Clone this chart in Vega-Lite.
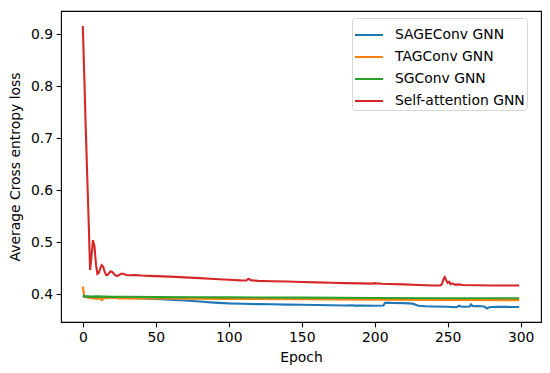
{
  "$schema": "https://vega.github.io/schema/vega-lite/v6.json",
  "width": 480,
  "height": 311,
  "autosize": {"type": "none"},
  "padding": {"left": 61, "top": 11, "right": 9, "bottom": 51},
  "background": "white",
  "config": {
    "view": {"stroke": "black", "strokeWidth": 1.1},
    "font": "DejaVu Sans",
    "axis": {
      "grid": false,
      "domain": false,
      "tickColor": "black",
      "tickSize": 4.9,
      "tickWidth": 1.1,
      "labelColor": "black",
      "labelFontSize": 13.9,
      "labelFont": "DejaVu Sans",
      "labelPadding": 3.5,
      "titleFont": "DejaVu Sans",
      "titleFontSize": 13.9,
      "titleFontWeight": "normal",
      "titleColor": "black"
    }
  },
  "data": {
    "values": [
      {"s": "Self-attention GNN", "e": 0, "v": 0.916},
      {"s": "Self-attention GNN", "e": 1, "v": 0.82},
      {"s": "Self-attention GNN", "e": 2, "v": 0.72},
      {"s": "Self-attention GNN", "e": 3, "v": 0.63},
      {"s": "Self-attention GNN", "e": 4, "v": 0.54},
      {"s": "Self-attention GNN", "e": 5, "v": 0.447},
      {"s": "Self-attention GNN", "e": 6, "v": 0.475},
      {"s": "Self-attention GNN", "e": 7, "v": 0.504},
      {"s": "Self-attention GNN", "e": 8, "v": 0.492},
      {"s": "Self-attention GNN", "e": 9, "v": 0.458},
      {"s": "Self-attention GNN", "e": 10, "v": 0.439},
      {"s": "Self-attention GNN", "e": 11, "v": 0.441},
      {"s": "Self-attention GNN", "e": 12, "v": 0.45},
      {"s": "Self-attention GNN", "e": 13, "v": 0.456},
      {"s": "Self-attention GNN", "e": 14, "v": 0.453},
      {"s": "Self-attention GNN", "e": 15, "v": 0.443},
      {"s": "Self-attention GNN", "e": 16, "v": 0.437},
      {"s": "Self-attention GNN", "e": 17, "v": 0.437},
      {"s": "Self-attention GNN", "e": 18, "v": 0.441},
      {"s": "Self-attention GNN", "e": 19, "v": 0.444},
      {"s": "Self-attention GNN", "e": 20, "v": 0.4435},
      {"s": "Self-attention GNN", "e": 21, "v": 0.4405},
      {"s": "Self-attention GNN", "e": 22, "v": 0.437},
      {"s": "Self-attention GNN", "e": 23, "v": 0.4355},
      {"s": "Self-attention GNN", "e": 24, "v": 0.4358},
      {"s": "Self-attention GNN", "e": 25, "v": 0.437},
      {"s": "Self-attention GNN", "e": 26, "v": 0.439},
      {"s": "Self-attention GNN", "e": 27, "v": 0.4398},
      {"s": "Self-attention GNN", "e": 28, "v": 0.439},
      {"s": "Self-attention GNN", "e": 29, "v": 0.438},
      {"s": "Self-attention GNN", "e": 30, "v": 0.437},
      {"s": "Self-attention GNN", "e": 33, "v": 0.4365},
      {"s": "Self-attention GNN", "e": 36, "v": 0.4368},
      {"s": "Self-attention GNN", "e": 40, "v": 0.436},
      {"s": "Self-attention GNN", "e": 45, "v": 0.4355},
      {"s": "Self-attention GNN", "e": 50, "v": 0.435},
      {"s": "Self-attention GNN", "e": 60, "v": 0.434},
      {"s": "Self-attention GNN", "e": 70, "v": 0.4325},
      {"s": "Self-attention GNN", "e": 80, "v": 0.431},
      {"s": "Self-attention GNN", "e": 90, "v": 0.4295},
      {"s": "Self-attention GNN", "e": 100, "v": 0.428},
      {"s": "Self-attention GNN", "e": 108, "v": 0.4268},
      {"s": "Self-attention GNN", "e": 112, "v": 0.4265},
      {"s": "Self-attention GNN", "e": 113, "v": 0.429},
      {"s": "Self-attention GNN", "e": 114, "v": 0.4295},
      {"s": "Self-attention GNN", "e": 115, "v": 0.427},
      {"s": "Self-attention GNN", "e": 116, "v": 0.4268},
      {"s": "Self-attention GNN", "e": 120, "v": 0.4258},
      {"s": "Self-attention GNN", "e": 130, "v": 0.4252},
      {"s": "Self-attention GNN", "e": 140, "v": 0.4245},
      {"s": "Self-attention GNN", "e": 150, "v": 0.4237},
      {"s": "Self-attention GNN", "e": 160, "v": 0.423},
      {"s": "Self-attention GNN", "e": 170, "v": 0.4222},
      {"s": "Self-attention GNN", "e": 180, "v": 0.4215},
      {"s": "Self-attention GNN", "e": 190, "v": 0.421},
      {"s": "Self-attention GNN", "e": 198, "v": 0.4205},
      {"s": "Self-attention GNN", "e": 200, "v": 0.4215},
      {"s": "Self-attention GNN", "e": 201, "v": 0.421},
      {"s": "Self-attention GNN", "e": 205, "v": 0.4202},
      {"s": "Self-attention GNN", "e": 210, "v": 0.4198},
      {"s": "Self-attention GNN", "e": 220, "v": 0.419},
      {"s": "Self-attention GNN", "e": 230, "v": 0.4178},
      {"s": "Self-attention GNN", "e": 240, "v": 0.417},
      {"s": "Self-attention GNN", "e": 245, "v": 0.4168},
      {"s": "Self-attention GNN", "e": 246, "v": 0.419},
      {"s": "Self-attention GNN", "e": 247, "v": 0.428},
      {"s": "Self-attention GNN", "e": 248, "v": 0.433},
      {"s": "Self-attention GNN", "e": 249, "v": 0.427},
      {"s": "Self-attention GNN", "e": 250, "v": 0.422},
      {"s": "Self-attention GNN", "e": 251, "v": 0.424},
      {"s": "Self-attention GNN", "e": 252, "v": 0.4195},
      {"s": "Self-attention GNN", "e": 253, "v": 0.421},
      {"s": "Self-attention GNN", "e": 255, "v": 0.4185},
      {"s": "Self-attention GNN", "e": 258, "v": 0.419},
      {"s": "Self-attention GNN", "e": 260, "v": 0.418},
      {"s": "Self-attention GNN", "e": 270, "v": 0.4175},
      {"s": "Self-attention GNN", "e": 280, "v": 0.417},
      {"s": "Self-attention GNN", "e": 290, "v": 0.417},
      {"s": "Self-attention GNN", "e": 299, "v": 0.4168},

      {"s": "SGConv GNN", "e": 0, "v": 0.397},
      {"s": "SGConv GNN", "e": 1, "v": 0.396},
      {"s": "SGConv GNN", "e": 5, "v": 0.3955},
      {"s": "SGConv GNN", "e": 10, "v": 0.396},
      {"s": "SGConv GNN", "e": 20, "v": 0.395},
      {"s": "SGConv GNN", "e": 30, "v": 0.3952},
      {"s": "SGConv GNN", "e": 50, "v": 0.3945},
      {"s": "SGConv GNN", "e": 80, "v": 0.3942},
      {"s": "SGConv GNN", "e": 100, "v": 0.394},
      {"s": "SGConv GNN", "e": 150, "v": 0.3935},
      {"s": "SGConv GNN", "e": 200, "v": 0.393},
      {"s": "SGConv GNN", "e": 250, "v": 0.3925},
      {"s": "SGConv GNN", "e": 299, "v": 0.3925},

      {"s": "TAGConv GNN", "e": 0, "v": 0.415},
      {"s": "TAGConv GNN", "e": 1, "v": 0.396},
      {"s": "TAGConv GNN", "e": 2, "v": 0.395},
      {"s": "TAGConv GNN", "e": 3, "v": 0.394},
      {"s": "TAGConv GNN", "e": 5, "v": 0.393},
      {"s": "TAGConv GNN", "e": 8, "v": 0.392},
      {"s": "TAGConv GNN", "e": 10, "v": 0.391},
      {"s": "TAGConv GNN", "e": 11, "v": 0.393},
      {"s": "TAGConv GNN", "e": 13, "v": 0.389},
      {"s": "TAGConv GNN", "e": 14, "v": 0.392},
      {"s": "TAGConv GNN", "e": 18, "v": 0.393},
      {"s": "TAGConv GNN", "e": 20, "v": 0.394},
      {"s": "TAGConv GNN", "e": 25, "v": 0.392},
      {"s": "TAGConv GNN", "e": 30, "v": 0.3925},
      {"s": "TAGConv GNN", "e": 50, "v": 0.392},
      {"s": "TAGConv GNN", "e": 75, "v": 0.3915},
      {"s": "TAGConv GNN", "e": 100, "v": 0.391},
      {"s": "TAGConv GNN", "e": 150, "v": 0.3905},
      {"s": "TAGConv GNN", "e": 200, "v": 0.3895},
      {"s": "TAGConv GNN", "e": 250, "v": 0.389},
      {"s": "TAGConv GNN", "e": 299, "v": 0.3888},

      {"s": "SAGEConv GNN", "e": 0, "v": 0.396},
      {"s": "SAGEConv GNN", "e": 5, "v": 0.395},
      {"s": "SAGEConv GNN", "e": 10, "v": 0.3945},
      {"s": "SAGEConv GNN", "e": 20, "v": 0.394},
      {"s": "SAGEConv GNN", "e": 30, "v": 0.393},
      {"s": "SAGEConv GNN", "e": 40, "v": 0.392},
      {"s": "SAGEConv GNN", "e": 50, "v": 0.391},
      {"s": "SAGEConv GNN", "e": 60, "v": 0.3895},
      {"s": "SAGEConv GNN", "e": 70, "v": 0.388},
      {"s": "SAGEConv GNN", "e": 80, "v": 0.386},
      {"s": "SAGEConv GNN", "e": 90, "v": 0.384},
      {"s": "SAGEConv GNN", "e": 100, "v": 0.3825},
      {"s": "SAGEConv GNN", "e": 110, "v": 0.3818},
      {"s": "SAGEConv GNN", "e": 120, "v": 0.381},
      {"s": "SAGEConv GNN", "e": 130, "v": 0.3808},
      {"s": "SAGEConv GNN", "e": 140, "v": 0.3802},
      {"s": "SAGEConv GNN", "e": 150, "v": 0.38},
      {"s": "SAGEConv GNN", "e": 160, "v": 0.3795},
      {"s": "SAGEConv GNN", "e": 170, "v": 0.379},
      {"s": "SAGEConv GNN", "e": 180, "v": 0.3785},
      {"s": "SAGEConv GNN", "e": 185, "v": 0.379},
      {"s": "SAGEConv GNN", "e": 186, "v": 0.3782},
      {"s": "SAGEConv GNN", "e": 190, "v": 0.3785},
      {"s": "SAGEConv GNN", "e": 200, "v": 0.378},
      {"s": "SAGEConv GNN", "e": 206, "v": 0.3785},
      {"s": "SAGEConv GNN", "e": 207, "v": 0.3835},
      {"s": "SAGEConv GNN", "e": 208, "v": 0.384},
      {"s": "SAGEConv GNN", "e": 212, "v": 0.3832},
      {"s": "SAGEConv GNN", "e": 220, "v": 0.383},
      {"s": "SAGEConv GNN", "e": 226, "v": 0.382},
      {"s": "SAGEConv GNN", "e": 230, "v": 0.378},
      {"s": "SAGEConv GNN", "e": 235, "v": 0.377},
      {"s": "SAGEConv GNN", "e": 240, "v": 0.3765},
      {"s": "SAGEConv GNN", "e": 250, "v": 0.376},
      {"s": "SAGEConv GNN", "e": 256, "v": 0.3752},
      {"s": "SAGEConv GNN", "e": 258, "v": 0.378},
      {"s": "SAGEConv GNN", "e": 259, "v": 0.3765},
      {"s": "SAGEConv GNN", "e": 262, "v": 0.376},
      {"s": "SAGEConv GNN", "e": 265, "v": 0.3765},
      {"s": "SAGEConv GNN", "e": 266, "v": 0.3805},
      {"s": "SAGEConv GNN", "e": 267, "v": 0.3775},
      {"s": "SAGEConv GNN", "e": 268, "v": 0.377},
      {"s": "SAGEConv GNN", "e": 270, "v": 0.3775},
      {"s": "SAGEConv GNN", "e": 275, "v": 0.3765},
      {"s": "SAGEConv GNN", "e": 277, "v": 0.3728},
      {"s": "SAGEConv GNN", "e": 278, "v": 0.3745},
      {"s": "SAGEConv GNN", "e": 280, "v": 0.3755},
      {"s": "SAGEConv GNN", "e": 285, "v": 0.376},
      {"s": "SAGEConv GNN", "e": 290, "v": 0.3757},
      {"s": "SAGEConv GNN", "e": 299, "v": 0.3755}
    ]
  },
  "encoding": {
    "x": {
      "field": "e", "type": "quantitative", "title": "Epoch",
      "scale": {"domain": [-14.95, 313.95], "nice": false, "zero": false},
      "axis": {"values": [0, 50, 100, 150, 200, 250, 300], "titlePadding": 6}
    },
    "y": {
      "field": "v", "type": "quantitative", "title": "Average Cross entropy loss",
      "scale": {"domain": [0.3467, 0.9448], "nice": false, "zero": false},
      "axis": {"values": [0.4, 0.5, 0.6, 0.7, 0.8, 0.9], "format": ".1f", "titlePadding": 8}
    },
    "color": {
      "field": "s", "type": "nominal",
      "scale": {
        "domain": ["SAGEConv GNN", "TAGConv GNN", "SGConv GNN", "Self-attention GNN"],
        "range": ["#1f77b4", "#ff7f0e", "#2ca02c", "#d62728"]
      },
      "legend": {
        "title": null,
        "orient": "none",
        "legendX": 291,
        "legendY": 7,
        "symbolType": "stroke",
        "symbolSize": 784,
        "symbolStrokeWidth": 2,
        "labelFontSize": 13.9,
        "labelFont": "DejaVu Sans",
        "labelColor": "black",
        "labelOffset": 11,
        "rowPadding": -1,
        "padding": 2,
        "strokeColor": "#d6d6d6",
        "fillColor": "white",
        "cornerRadius": 3
      }
    }
  },
  "layer": [
    {"transform": [{"filter": "datum.s === 'SAGEConv GNN'"}], "mark": {"type": "line", "strokeWidth": 2.1, "clip": true}},
    {"transform": [{"filter": "datum.s === 'TAGConv GNN'"}], "mark": {"type": "line", "strokeWidth": 2.1, "clip": true}},
    {"transform": [{"filter": "datum.s === 'SGConv GNN'"}], "mark": {"type": "line", "strokeWidth": 2.1, "clip": true}},
    {"transform": [{"filter": "datum.s === 'Self-attention GNN'"}], "mark": {"type": "line", "strokeWidth": 2.1, "clip": true}}
  ]
}
